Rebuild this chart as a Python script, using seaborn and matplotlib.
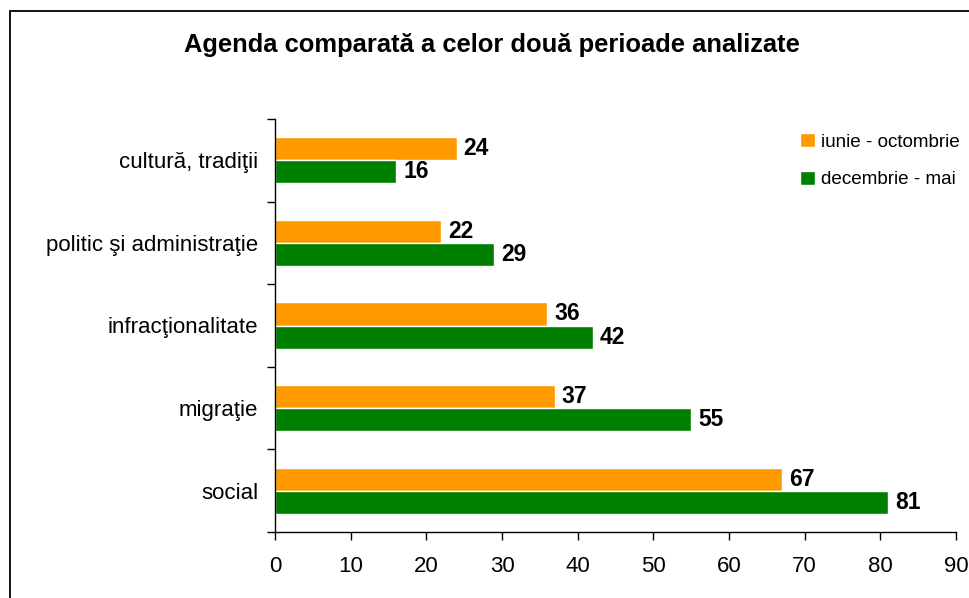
import pandas as pd
import numpy as np
import matplotlib.pyplot as plt
import seaborn as sns
from matplotlib.patches import Rectangle

# Date
categorii = ['cultură, tradiţii', 'politic şi administraţie', 'infracţionalitate', 'migraţie', 'social']
perioade = ['iunie - octombrie', 'decembrie - mai']
iunie_octombrie = [24, 22, 36, 37, 67]
decembrie_mai = [16, 29, 42, 55, 81]
culori = ['#FF9900', '#008000']

df = pd.DataFrame({
    'Categorie': categorii * 2,
    'Perioada': [perioade[0]] * len(categorii) + [perioade[1]] * len(categorii),
    'Valoare': iunie_octombrie + decembrie_mai,
})

sns.set_style('white')
plt.rcParams['font.family'] = ['Liberation Sans', 'DejaVu Sans']
plt.rcParams['text.color'] = 'black'
plt.rcParams['xtick.color'] = 'black'
plt.rcParams['ytick.color'] = 'black'

fig = plt.figure(figsize=(9.7, 5.98), dpi=100)
ax = fig.add_axes([275 / 970, 66 / 598, 681 / 970, 413 / 598])

sns.barplot(data=df, y='Categorie', x='Valoare', hue='Perioada', order=categorii,
            hue_order=perioade, palette=culori, orient='h', width=0.56,
            saturation=1, ax=ax)

for cont in ax.containers:
    ax.bar_label(cont, fmt='%d', padding=5, fontsize=16.5, fontweight='bold', color='black')

ax.set_xlim(0, 90)
ax.set_ylim(len(categorii) - 0.5, -0.5)
ax.set_xticks(np.arange(0, 91, 10))
ax.set_xlabel('')
ax.set_ylabel('')

# ticks la limitele categoriilor
ax.set_yticks(np.arange(-0.5, len(categorii), 1), minor=True)
ax.tick_params(axis='y', which='major', length=0, pad=12, labelsize=16)
ax.tick_params(axis='y', which='minor', length=6, width=1, color='black', direction='out', left=True)
ax.tick_params(axis='x', which='major', length=6, width=1, color='black', direction='out',
               bottom=True, pad=11, labelsize=16)

for side in ['top', 'right']:
    ax.spines[side].set_visible(False)
for side in ['left', 'bottom']:
    ax.spines[side].set_color('black')
    ax.spines[side].set_linewidth(1)

ax.legend(loc='upper left', bbox_to_anchor=(0.752, 0.997), frameon=False, fontsize=13.6,
          handlelength=0.75, handleheight=0.75, handletextpad=0.35, labelspacing=1.05,
          borderaxespad=0.3)

fig.text(492 / 970, 1 - 45 / 598, 'Agenda comparată a celor două perioade analizate',
         ha='center', va='center', fontsize=18.4, fontweight='bold')

# chenar in jurul figurii (marginea dreapta iese din imagine)
fig.patches.append(Rectangle((10 / 970, -0.01), 0.995, 1 - 11 / 598 + 0.01,
                             transform=fig.transFigure, fill=False,
                             edgecolor='black', linewidth=1.3))

fig.savefig('out.png', dpi=100)
